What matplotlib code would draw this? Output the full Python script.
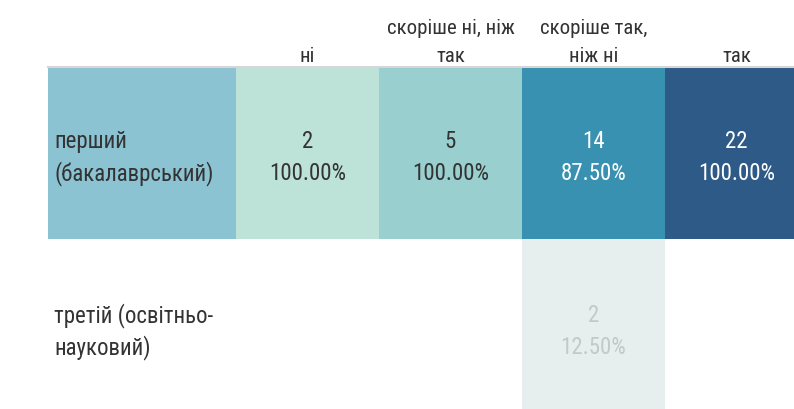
import matplotlib
matplotlib.use("Agg")
import matplotlib.pyplot as plt
from matplotlib.patches import Rectangle
from matplotlib import font_manager

categories = ["ні", "скоріше ні, ніж\nтак", "скоріше так,\nніж ні", "так"]
rows = ["перший\n(бакалаврський)", "третій (освітньо-\nнауковий)"]
counts = [[2, 5, 14, 22],
          [None, None, 2, None]]
percents = [[100.00, 100.00, 87.50, 100.00],
            [None, None, 12.50, None]]
cell_colors = [["#bde3d9", "#99cfcf", "#3891b0", "#2d5a86"],
               [None, None, "#e6efed", None]]
text_colors = [["#333333", "#333333", "#ffffff", "#ffffff"],
               [None, None, "#c4c9c8", None]]
row_header_colors = ["#8cc3d3", None]

avail = {f.name for f in font_manager.fontManager.ttflist}
fam = [f for f in ["Roboto Condensed", "Liberation Sans Narrow", "Roboto", "DejaVu Sans"] if f in avail]
plt.rcParams['font.family'] = fam

W, H = 794, 410
fig = plt.figure(figsize=(W / 100, H / 100), dpi=100)
ax = fig.add_axes([0, 0, 1, 1])
ax.set_xlim(0, W)
ax.set_ylim(H, 0)
ax.axis("off")

x0 = 48
hdr_w = 188
col_w = 143
top = 68
row_h = 171

# header line
ax.plot([x0, W], [top - 0.5, top - 0.5], color="#d6d6d6", lw=1.5)

hdr_fs = 15
for j, cat in enumerate(categories):
    cx = x0 + hdr_w + col_w * (j + 0.5)
    lines = cat.split("\n")
    for k, ln in enumerate(reversed(lines)):
        ax.text(cx, top - 6 - 28 * k, ln, ha="center", va="baseline",
                fontsize=hdr_fs, color="#333333")

fs = 16.5
for i, r in enumerate(rows):
    y = top + 1 + row_h * i
    b1 = y + 79 + 3 * i
    b2 = b1 + 32
    if row_header_colors[i]:
        ax.add_patch(Rectangle((x0, y), hdr_w, row_h, color=row_header_colors[i], lw=0))
    l1, l2 = r.split("\n")
    ax.text(x0 + 6, b1, l1, ha="left", va="baseline", fontsize=fs, color="#333333")
    ax.text(x0 + 6, b2, l2, ha="left", va="baseline", fontsize=fs, color="#333333")
    for j in range(len(categories)):
        if counts[i][j] is None:
            continue
        cx = x0 + hdr_w + col_w * j
        ax.add_patch(Rectangle((cx, y), col_w, row_h, color=cell_colors[i][j], lw=0))
        ax.text(cx + col_w / 2, b1, f"{counts[i][j]}", ha="center", va="baseline",
                fontsize=fs, color=text_colors[i][j])
        ax.text(cx + col_w / 2, b2, f"{percents[i][j]:.2f}%", ha="center", va="baseline",
                fontsize=fs, color=text_colors[i][j])

fig.savefig("out.png", dpi=100)
